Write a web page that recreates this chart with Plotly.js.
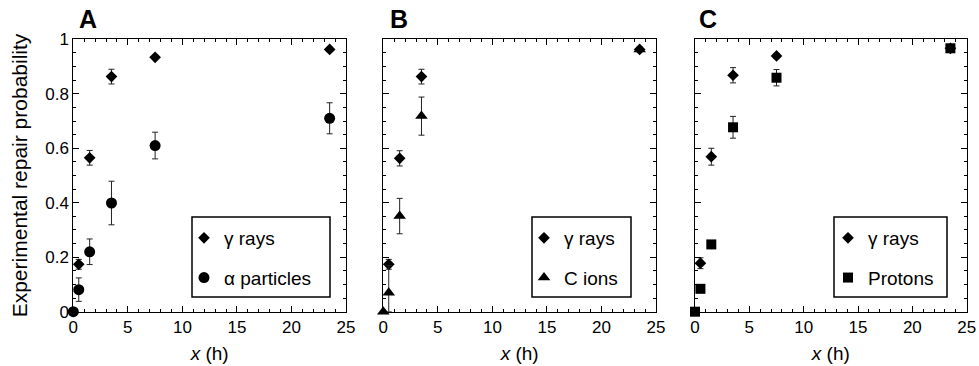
<!DOCTYPE html>
<html>
<head>
<meta charset="utf-8">
<script src="https://cdn.plot.ly/plotly-3.0.1.min.js"></script>
<style>html,body{margin:0;padding:0;background:#fff;}#chart{width:979px;height:366px;}</style>
</head>
<body>
<div id="chart"></div>
<script>
// ---- data (hours, repair probability, error) ----
var gammaA_x = [0.5, 1.5, 3.5, 7.5, 23.5];
var gammaA_y = [0.174, 0.565, 0.863, 0.934, 0.963];
var gammaA_e = [0.018, 0.027, 0.027, 0.008, 0.008];

var alpha_x = [0, 0.5, 1.5, 3.5, 7.5, 23.5];
var alpha_y = [0, 0.081, 0.22, 0.399, 0.610, 0.71];
var alpha_e = [0, 0.043, 0.047, 0.08, 0.049, 0.057];

var gammaB_x = [0.5, 1.5, 3.5, 23.5];
var gammaB_y = [0.174, 0.563, 0.863, 0.963];
var gammaB_e = [0.018, 0.028, 0.027, 0.008];

var cion_x = [0, 0.5, 1.5, 3.5, 23.5];
var cion_y = [0, 0.07, 0.351, 0.718, 0.963];
var cion_eplus = [0, 0.1, 0.065, 0.07, 0.008];
var cion_eminus = [0, 0.07, 0.065, 0.07, 0.008];

var gammaC_x = [0.5, 1.5, 3.5, 7.5, 23.5];
var gammaC_y = [0.178, 0.569, 0.868, 0.939, 0.967];
var gammaC_e = [0.02, 0.031, 0.028, 0.008, 0.008];

var proton_x = [0, 0.5, 1.5, 3.5, 7.5, 23.5];
var proton_y = [0, 0.084, 0.247, 0.677, 0.859, 0.967];
var proton_e = [0, 0.012, 0.008, 0.04, 0.03, 0.008];

var panelLetters = ['A', 'B', 'C'];
var xTitle = '<i>x</i> (h)';
var yTitle = 'Experimental repair probability';

// ---- styling ----
var FONT = 'Liberation Sans, Arial, Helvetica, sans-serif';
var INK = '#000';
function err(arr, minus) {
  var o = {type: 'data', array: arr, visible: true, color: '#222', thickness: 1, width: 3};
  if (minus) { o.symmetric = false; o.arrayminus = minus; }
  return o;
}
function tr(x, y, e, name, sym, size, xa, ya, leg, grp, eminus) {
  return {
    x: x, y: y, type: 'scatter', mode: 'markers', name: name,
    marker: {symbol: sym, size: size, color: INK},
    error_y: err(e, eminus), xaxis: xa, yaxis: ya,
    legend: leg, legendgroup: grp, cliponaxis: false
  };
}
var data = [
  tr(gammaA_x, gammaA_y, gammaA_e, 'γ rays', 'diamond', 9, 'x', 'y', 'legend', 'a1'),
  tr(alpha_x, alpha_y, alpha_e, 'α particles', 'circle', 11, 'x', 'y', 'legend', 'a2'),
  tr(gammaB_x, gammaB_y, gammaB_e, 'γ rays', 'diamond', 9, 'x2', 'y2', 'legend2', 'b1'),
  tr(cion_x, cion_y, cion_eplus, 'C ions', 'triangle-up', 11, 'x2', 'y2', 'legend2', 'b2', cion_eminus),
  tr(gammaC_x, gammaC_y, gammaC_e, 'γ rays', 'diamond', 9, 'x3', 'y3', 'legend3', 'c1'),
  tr(proton_x, proton_y, proton_e, 'Protons', 'square', 10, 'x3', 'y3', 'legend3', 'c2')
];

var W = 979, H = 366;
function px(v) { return v / W; }
function py(v) { return 1 - v / H; }
var xDom = [[73.3, 346], [383.3, 656], [695, 966.7]];
var yDom = [py(311.7), py(39.3)];

function xaxis(i) {
  return {
    domain: [px(xDom[i][0]), px(xDom[i][1])], range: [0, 25], anchor: i === 0 ? 'y' : 'y' + (i + 1),
    dtick: 5, tick0: 0, ticks: 'inside', ticklen: 6, tickwidth: 1, tickcolor: INK,
    minor: {dtick: 1, ticks: 'inside', ticklen: 3, tickcolor: INK, tickwidth: 1},
    showline: true, linecolor: INK, linewidth: 1, mirror: 'allticks',
    showgrid: false, zeroline: false,
    tickfont: {family: FONT, size: 17, color: INK},
    title: {text: xTitle, font: {family: FONT, size: 19, color: INK}, standoff: 10}
  };
}
function yaxis(i) {
  return {
    domain: yDom, range: [0, 1], anchor: i === 0 ? 'x' : 'x' + (i + 1),
    dtick: 0.2, tick0: 0, ticks: 'inside', ticklen: 6, tickwidth: 1, tickcolor: INK,
    minor: {dtick: 0.05, ticks: 'inside', ticklen: 3, tickcolor: INK, tickwidth: 1},
    showline: true, linecolor: INK, linewidth: 1, mirror: 'allticks',
    showgrid: false, zeroline: false, showticklabels: i === 0,
    tickfont: {family: FONT, size: 17, color: INK},
    title: i === 0 ? {text: yTitle, font: {family: FONT, size: 21, color: INK}, standoff: 11} : {text: ''}
  };
}
function legend(xpx, ypx) {
  return {
    x: px(xpx), y: py(ypx), xanchor: 'left', yanchor: 'top',
    bgcolor: 'rgba(0,0,0,0)', borderwidth: 0, traceorder: 'grouped', tracegroupgap: 12,
    font: {family: FONT, size: 19, color: INK}, itemwidth: 30
  };
}
var boxes = [[192, 330], [532, 631], [834, 947]];
var shapes = boxes.map(function (b) {
  return {type: 'rect', xref: 'paper', yref: 'paper', x0: px(b[0]), x1: px(b[1]),
    y0: py(297), y1: py(217), line: {color: INK, width: 1.5}, fillcolor: 'rgba(0,0,0,0)'};
});
var letterX = [77, 388, 697];
var annotations = panelLetters.map(function (t, i) {
  return {text: '<b>' + t + '</b>', xref: 'paper', yref: 'paper', x: px(letterX[i]), y: py(3),
    xanchor: 'left', yanchor: 'top', showarrow: false,
    font: {family: FONT, size: 25, color: INK}};
});

var layout = {
  width: W, height: H, margin: {l: 0, r: 0, t: 0, b: 0},
  paper_bgcolor: '#fff', plot_bgcolor: '#fff', showlegend: true,
  xaxis: xaxis(0), xaxis2: xaxis(1), xaxis3: xaxis(2),
  yaxis: yaxis(0), yaxis2: yaxis(1), yaxis3: yaxis(2),
  legend: legend(184, 219), legend2: legend(524, 219), legend3: legend(828, 219),
  shapes: shapes, annotations: annotations,
  font: {family: FONT, color: INK}
};
Plotly.newPlot('chart', data, layout, {staticPlot: true, displayModeBar: false});
</script>
</body>
</html>
